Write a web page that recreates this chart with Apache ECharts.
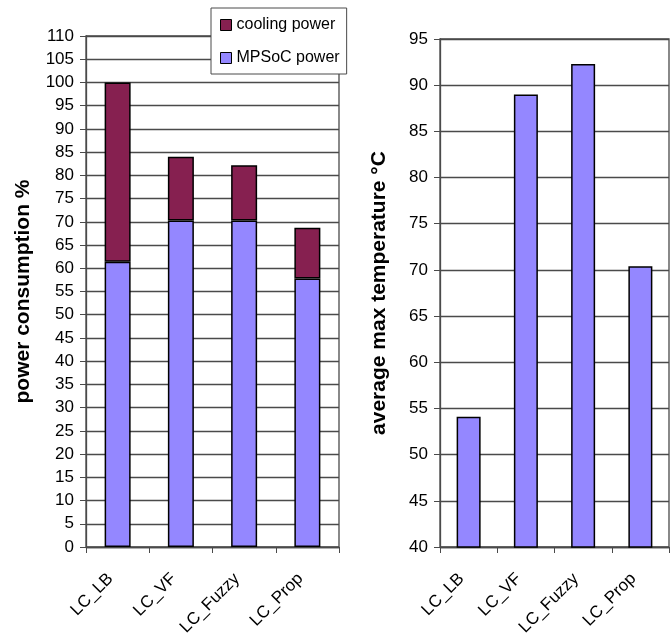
<!DOCTYPE html>
<html><head><meta charset="utf-8">
<script src="https://cdn.jsdelivr.net/npm/echarts@6/dist/echarts.min.js"></script>
<style>html,body{margin:0;padding:0;background:#fff}#c{width:672px;height:633px}</style>
</head><body><div id="c"></div>
<script>
const categories = ['LC_LB', 'LC_VF', 'LC_Fuzzy', 'LC_Prop'];
const mpsocPower = [61.4, 70.3, 70.3, 57.8];
const coolingPower = [38.6, 13.7, 11.9, 10.9];
const avgMaxTemp = [54.1, 89.0, 92.3, 70.4];

const chart = echarts.init(document.getElementById('c'), null, {renderer: 'canvas'});
const font = 'Liberation Sans, Arial, sans-serif';
const gridLine = {show: true, lineStyle: {color: '#4a4a4a', width: 1.3}};
const axLine = {show: true, lineStyle: {color: '#4a4a4a', width: 1.3}};
const xLabel = {rotate: 45, fontSize: 17, color: '#000', margin: 22, padding: [0, 10, 0, 0], fontFamily: font};
chart.setOption({
  animation: false,
  backgroundColor: '#fff',
  textStyle: {fontFamily: font},
  legend: {
    orient: 'vertical', left: 211, top: 8, width: 136,
    itemWidth: 11, itemHeight: 11, itemGap: 17,
    padding: [9, 7, 8, 9],
    borderColor: '#4a4a4a', borderWidth: 1, backgroundColor: '#fff',
    textStyle: {fontSize: 16, color: '#000', fontFamily: font},
    data: [
      {name: 'cooling power', icon: 'rect', itemStyle: {borderColor: '#000', borderWidth: 1}},
      {name: 'MPSoC power', icon: 'rect', itemStyle: {borderColor: '#000', borderWidth: 1}}
    ]
  },
  grid: [
    {left: 86, right: 333, top: 36, bottom: 86, show: true, borderColor: '#4a4a4a', borderWidth: 1.3, containLabel: false, outerBoundsMode: 'none'},
    {left: 440, right: 3, top: 39, bottom: 86, show: true, borderColor: '#4a4a4a', borderWidth: 1.3, containLabel: false, outerBoundsMode: 'none'}
  ],
  xAxis: [
    {type: 'category', gridIndex: 0, data: categories, boundaryGap: true,
     axisLine: axLine, axisTick: {show: true, length: 6, lineStyle: {color: '#4a4a4a'}},
     axisLabel: xLabel},
    {type: 'category', gridIndex: 1, data: categories, boundaryGap: true,
     axisLine: axLine, axisTick: {show: true, length: 6, lineStyle: {color: '#4a4a4a'}},
     axisLabel: xLabel}
  ],
  yAxis: [
    {type: 'value', gridIndex: 0, min: 0, max: 110, interval: 5,
     name: 'power consumption %', nameLocation: 'middle', nameGap: 52, nameRotate: 90,
     nameTextStyle: {fontSize: 21, fontWeight: 'bold', color: '#000', fontFamily: font},
     axisLine: axLine, axisTick: {show: true, length: 6, lineStyle: {color: '#4a4a4a'}},
     splitLine: gridLine,
     axisLabel: {fontSize: 17, color: '#000', margin: 12, fontFamily: font}},
    {type: 'value', gridIndex: 1, min: 40, max: 95, interval: 5,
     name: 'average max temperature °C', nameLocation: 'middle', nameGap: 50, nameRotate: 90,
     nameTextStyle: {fontSize: 21, fontWeight: 'bold', color: '#000', fontFamily: font},
     axisLine: axLine, axisTick: {show: true, length: 6, lineStyle: {color: '#4a4a4a'}},
     splitLine: gridLine,
     axisLabel: {fontSize: 17, color: '#000', margin: 12, fontFamily: font}}
  ],
  series: [
    {name: 'MPSoC power', type: 'bar', stack: 'p', xAxisIndex: 0, yAxisIndex: 0, barWidth: 26,
     data: mpsocPower, itemStyle: {color: '#9487FF', borderColor: '#000', borderWidth: 1.5}},
    {name: 'cooling power', type: 'bar', stack: 'p', xAxisIndex: 0, yAxisIndex: 0, barWidth: 26,
     data: coolingPower, itemStyle: {color: '#862050', borderColor: '#000', borderWidth: 1.5}},
    {name: 'temp', type: 'bar', xAxisIndex: 1, yAxisIndex: 1, barWidth: 24,
     data: avgMaxTemp, itemStyle: {color: '#9487FF', borderColor: '#000', borderWidth: 1.5}}
  ]
});
</script></body></html>
